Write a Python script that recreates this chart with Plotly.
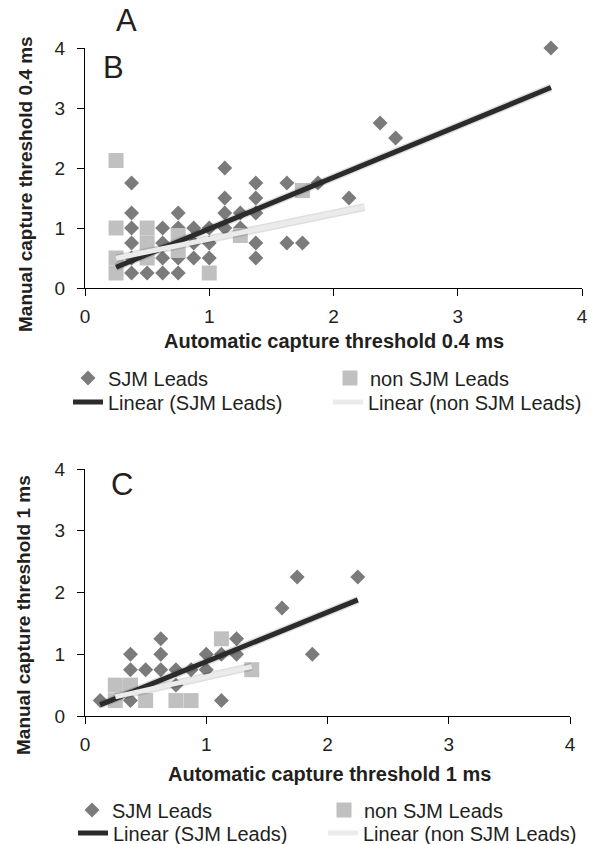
import plotly.graph_objects as go

W, H = 597, 844

# ---------------- data ----------------
# Panel B: 0.4 ms
top_sjm_x = [0.375, 0.375, 0.375, 0.375, 0.375, 0.375,
             0.5, 0.5,
             0.625, 0.625, 0.625, 0.625,
             0.75, 0.75, 0.75, 0.75,
             0.875, 0.875, 0.875,
             1.0, 1.0, 1.0,
             1.125, 1.125, 1.125, 1.125,
             1.25, 1.25,
             1.375, 1.375, 1.375, 1.375, 1.375,
             1.625, 1.625, 1.75, 1.875, 2.125,
             2.375, 2.5, 3.75]
top_sjm_y = [1.75, 1.25, 1.0, 0.75, 0.5, 0.25,
             0.5, 0.25,
             1.0, 0.75, 0.5, 0.25,
             1.25, 1.0, 0.5, 0.25,
             1.0, 0.75, 0.5,
             1.0, 0.75, 0.5,
             2.0, 1.5, 1.25, 1.0,
             1.25, 1.0,
             1.75, 1.5, 1.25, 0.75, 0.5,
             1.75, 0.75, 0.75, 1.75, 1.5,
             2.75, 2.5, 4.0]
top_non_x = [0.25, 0.25, 0.25, 0.25,
             0.5, 0.5, 0.5,
             0.75, 0.75,
             1.0, 1.25, 1.75]
top_non_y = [2.125, 1.0, 0.5, 0.25,
             1.0, 0.75, 0.5,
             0.875, 0.625,
             0.25, 0.875, 1.625]
# trendlines: [slope, intercept] and x extent
top_sjm_fit = [0.856, 0.131]
top_sjm_fit_x = [0.25, 3.75]
top_non_fit = [0.427, 0.388]
top_non_fit_x = [0.25, 2.25]

# Panel C: 1 ms
bot_sjm_x = [0.125, 0.25, 0.375, 0.375, 0.375, 0.5,
             0.625, 0.625, 0.625, 0.75, 0.75, 0.875,
             1.0, 1.0, 1.125, 1.125, 1.25, 1.25,
             1.625, 1.75, 1.875, 2.25]
bot_sjm_y = [0.25, 0.5, 1.0, 0.75, 0.25, 0.75,
             1.25, 1.0, 0.75, 0.75, 0.5, 0.75,
             1.0, 0.75, 1.0, 0.25, 1.25, 1.0,
             1.75, 2.25, 1.0, 2.25]
bot_non_x = [0.25, 0.375, 0.25, 0.5, 0.75, 0.875, 1.125, 1.375]
bot_non_y = [0.5, 0.5, 0.25, 0.25, 0.25, 0.25, 1.25, 0.75]
bot_sjm_fit = [0.80, 0.08]
bot_sjm_fit_x = [0.125, 2.25]
bot_non_fit = [0.436, 0.20]
bot_non_fit_x = [0.25, 1.375]

tick_vals = [0, 1, 2, 3, 4]
tick_text = ["0", "1", "2", "3", "4"]

names = ["SJM Leads", "non SJM Leads", "Linear (SJM Leads)", "Linear (non SJM Leads)"]

# ---------------- styles ----------------
FONT = "Liberation Sans, Arial, sans-serif"
TXT = "#231f20"
DIAMOND = "#7b7b7b"
SQUARE = "#c0c0c0"
DARKLINE = "#2b2b2b"
LIGHTLINE = "#ebebeb"
SHADOW = "rgba(0,0,0,0.13)"


def px_x(p):
    return p / W


def px_y(p):
    return 1 - p / H


fig = go.Figure()


def fit_line(fit, xs):
    return [fit[0] * x + fit[1] for x in xs]


def add_panel(xa, ya, sx, sy, nx, ny, sfit, sfx, nfit, nfx, legs):
    fig.add_trace(go.Scatter(x=sx, y=sy, mode="markers", name=names[0],
                             marker=dict(symbol="diamond", size=11.5, color=DIAMOND),
                             xaxis=xa, yaxis=ya, cliponaxis=False, legend=legs[0]))
    fig.add_trace(go.Scatter(x=nx, y=ny, mode="markers", name=names[1],
                             marker=dict(symbol="square", size=15, color=SQUARE),
                             xaxis=xa, yaxis=ya, cliponaxis=False, legend=legs[1]))
    # soft drop shadows under the trendlines
    for fit, fx in [(sfit, sfx), (nfit, nfx)]:
        fig.add_trace(go.Scatter(x=fx, y=fit_line(fit, fx), mode="lines", showlegend=False,
                                 hoverinfo="skip", line=dict(color=SHADOW, width=8),
                                 xaxis=xa, yaxis=ya))
    fig.add_trace(go.Scatter(x=sfx, y=fit_line(sfit, sfx), mode="lines", name=names[2],
                             line=dict(color=DARKLINE, width=5),
                             xaxis=xa, yaxis=ya, legend=legs[2]))
    fig.add_trace(go.Scatter(x=nfx, y=fit_line(nfit, nfx), mode="lines", name=names[3],
                             line=dict(color=LIGHTLINE, width=5),
                             xaxis=xa, yaxis=ya, legend=legs[3]))


add_panel("x", "y", top_sjm_x, top_sjm_y, top_non_x, top_non_y,
          top_sjm_fit, top_sjm_fit_x, top_non_fit, top_non_fit_x,
          ["legend", "legend2", "legend3", "legend4"])
add_panel("x2", "y2", bot_sjm_x, bot_sjm_y, bot_non_x, bot_non_y,
          bot_sjm_fit, bot_sjm_fit_x, bot_non_fit, bot_non_fit_x,
          ["legend5", "legend6", "legend7", "legend8"])

axis_common = dict(range=[0, 4], tickvals=tick_vals, ticktext=tick_text,
                   showline=True, linecolor="#000", linewidth=1,
                   ticks="outside", ticklen=7, tickcolor="#000", tickwidth=1,
                   showgrid=False, zeroline=False, fixedrange=True, automargin=False,
                   tickfont=dict(family=FONT, size=19, color=TXT))

fig.update_layout(
    xaxis=dict(domain=[px_x(85), px_x(582)], anchor="y", ticklabelstandoff=4, **axis_common),
    yaxis=dict(domain=[px_y(288), px_y(48)], anchor="x", ticklabelstandoff=8, **axis_common),
    xaxis2=dict(domain=[px_x(85), px_x(570)], anchor="y2", ticklabelstandoff=4, **axis_common),
    yaxis2=dict(domain=[px_y(716), px_y(469)], anchor="x2", ticklabelstandoff=8, **axis_common),
)


def legend_at(cx, cy):
    # cx: symbol centre (px), cy: row centre (px)
    return dict(x=px_x(cx - 20), y=px_y(cy), xanchor="left", yanchor="middle",
                orientation="v", bgcolor="rgba(0,0,0,0)", borderwidth=0, visible=True,
                font=dict(family=FONT, size=20, color=TXT), itemwidth=30)


fig.update_layout(
    showlegend=True,
    legend=legend_at(88, 378), legend2=legend_at(350, 378),
    legend3=legend_at(88, 402), legend4=legend_at(348, 402),
    legend5=legend_at(92, 810), legend6=legend_at(344, 810),
    legend7=legend_at(93, 833), legend8=legend_at(343, 833),
)

ann = []
for txt, x, y in [("A", 127, 20), ("B", 113, 67), ("C", 122, 485)]:
    ann.append(dict(text=txt, x=px_x(x), y=px_y(y), xref="paper", yref="paper",
                    showarrow=False, xanchor="center", yanchor="middle",
                    font=dict(family=FONT, size=31, color=TXT)))
for txt, x, y in [("Automatic capture threshold 0.4 ms", 334, 341),
                  ("Automatic capture threshold 1 ms", 329, 774)]:
    ann.append(dict(text="<b>" + txt + "</b>", x=px_x(x), y=px_y(y), xref="paper", yref="paper",
                    showarrow=False, xanchor="center", yanchor="middle",
                    font=dict(family=FONT, size=20, color=TXT)))
for txt, x, y in [("Manual capture threshold 0.4 ms", 25, 184),
                  ("Manual capture threshold 1 ms", 23, 615)]:
    ann.append(dict(text="<b>" + txt + "</b>", x=px_x(x), y=px_y(y), xref="paper", yref="paper",
                    showarrow=False, xanchor="center", yanchor="middle", textangle=-90,
                    font=dict(family=FONT, size=19, color=TXT)))

fig.update_layout(
    width=W, height=H, autosize=False,
    margin=dict(l=0, r=0, t=0, b=0, autoexpand=False),
    paper_bgcolor="white", plot_bgcolor="white",
    annotations=ann,
    font=dict(family=FONT, color=TXT),
)

fig.write_html("out.html", include_plotlyjs=True, config={"displayModeBar": False},
               post_script="document.body.style.margin='0px';document.body.style.padding='0px';"
                           "document.body.style.overflow='hidden';")
